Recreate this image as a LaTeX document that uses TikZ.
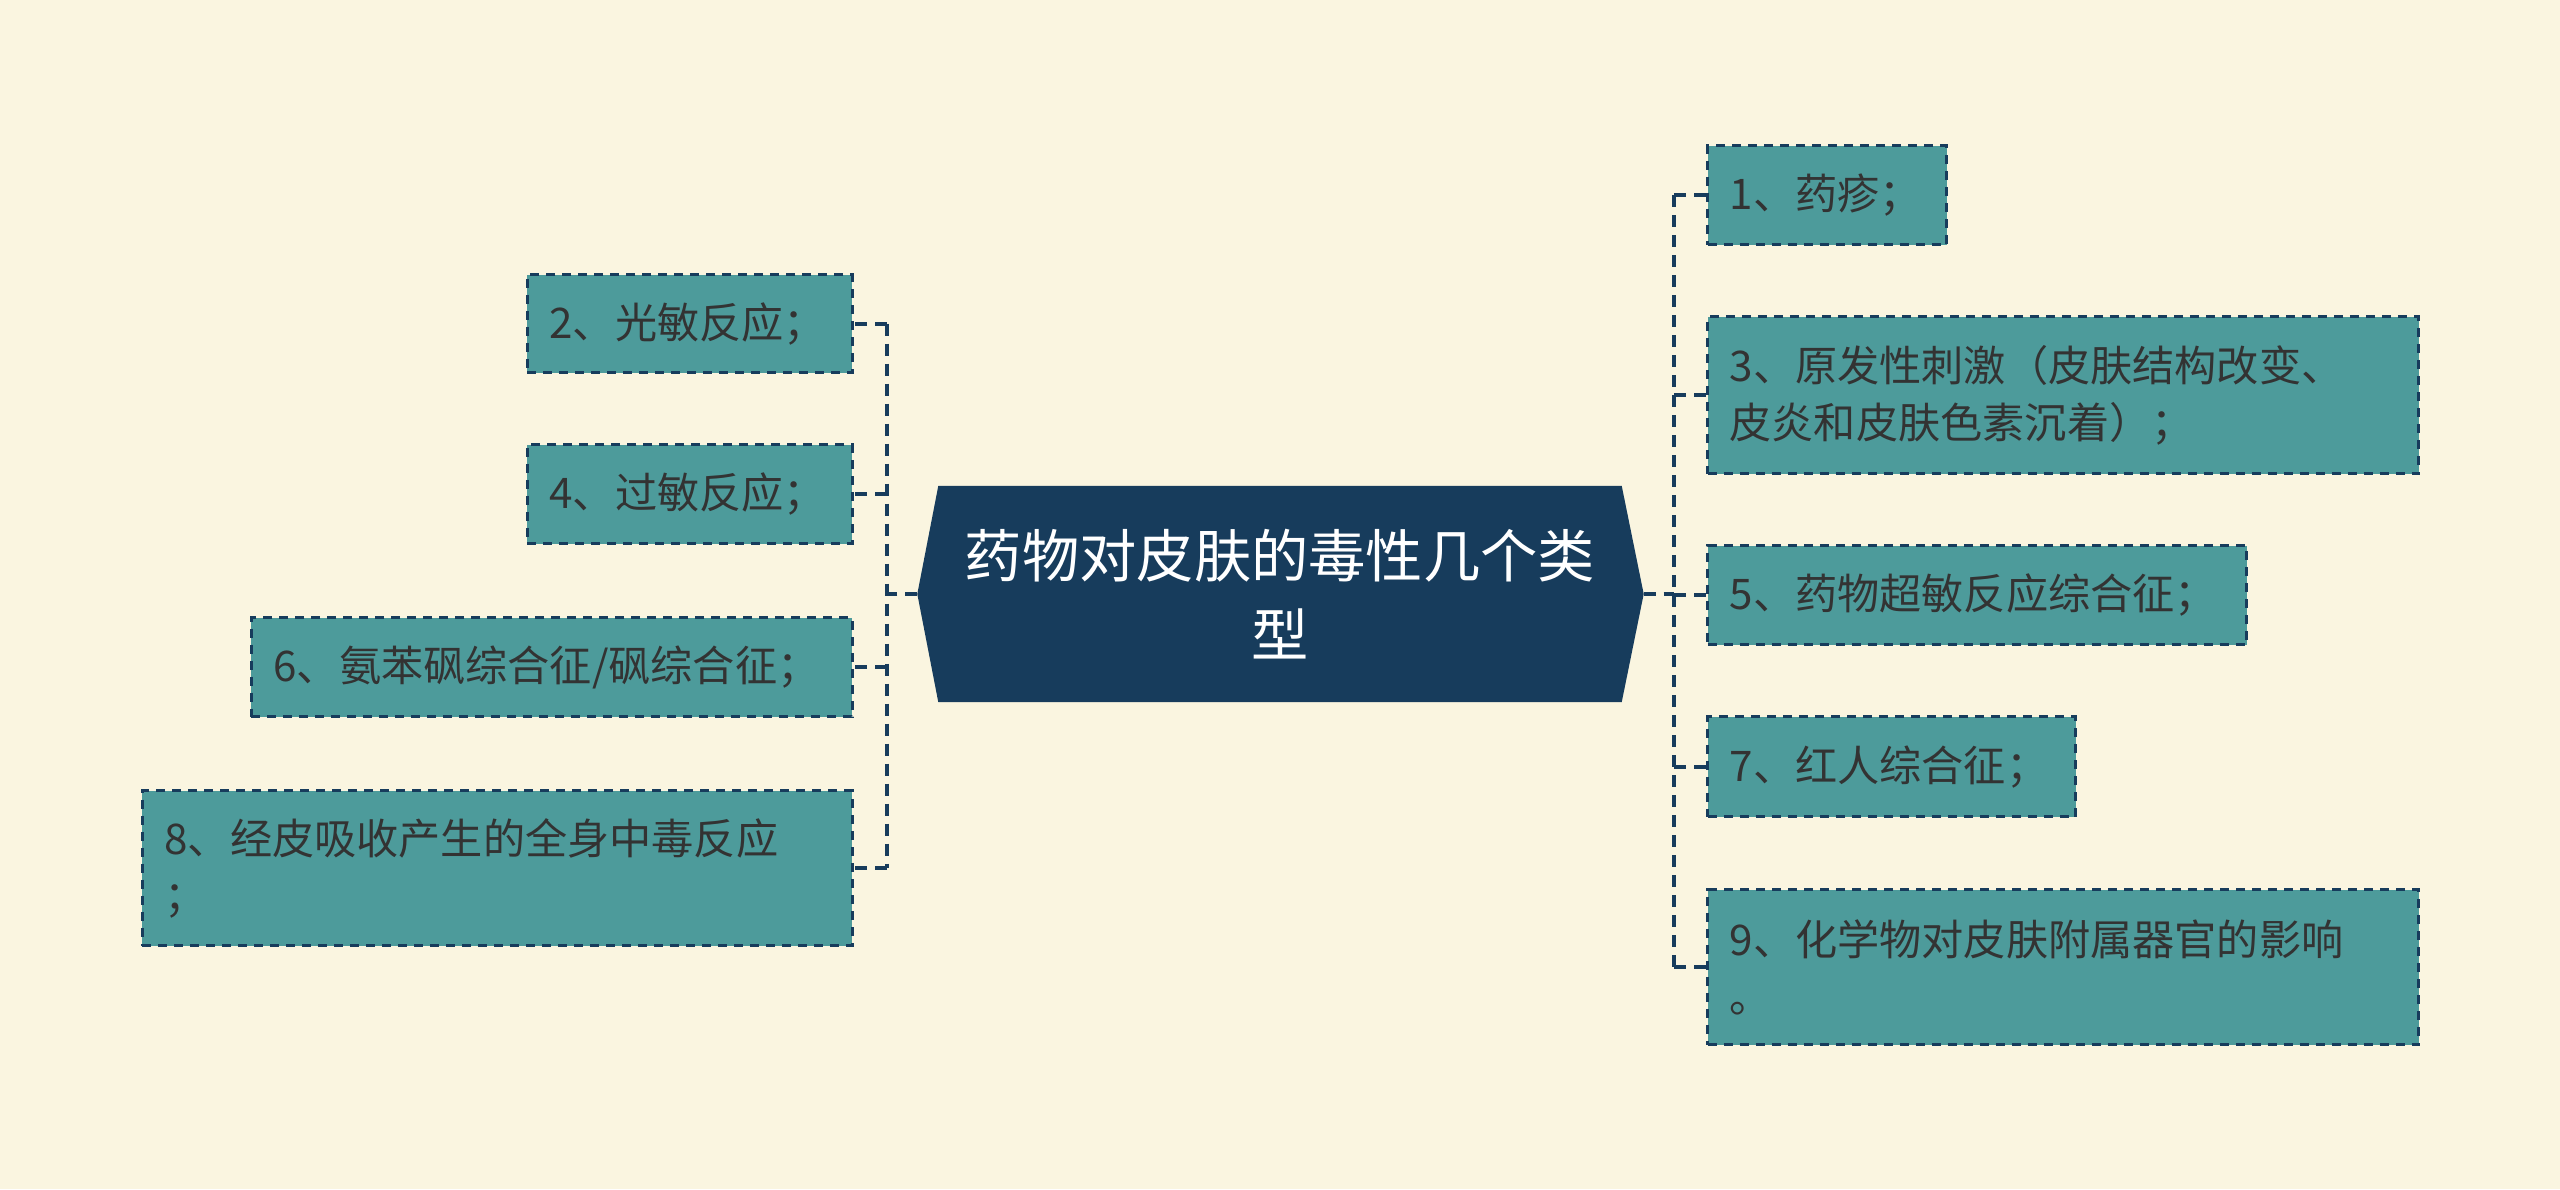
\documentclass[tikz,border=0pt]{standalone}
\usepackage{fontspec}
\newfontfamily\cjk{Noto Sans CJK SC}
\usepackage{xcolor}
\definecolor{mmcream}{RGB}{250,245,224}
\definecolor{mmteal}{RGB}{77,155,155}
\definecolor{mmnavy}{RGB}{23,60,92}
\definecolor{mmink}{RGB}{51,51,51}
\usetikzlibrary{backgrounds}

\begin{document}
\begin{tikzpicture}[
  toxitem/.style={draw=mmnavy,fill=mmteal,dash pattern=on 0.09cm off 0.07cm,line width=0.9pt,
    font=\cjk\fontsize{12pt}{16.2pt}\selectfont,text=mmink,align=left,
    inner xsep=0.22cm,inner ysep=0pt},
  toxroot/.style={font=\cjk\fontsize{16.3pt}{22.5pt}\selectfont,text=white,align=center,
    minimum width=6.82cm,minimum height=2.15cm,inner sep=0pt},
  toxlink/.style={draw=mmnavy,line width=1.1pt,dash pattern=on 0.12cm off 0.08cm}
]
  \useasboundingbox (0,0) rectangle (25.6,-11.89);
  \begin{scope}[on background layer]
    \fill[mmcream] (0,0) rectangle (25.6,-11.89);
  \end{scope}
  % Central topic
  \node[toxroot] (tox) at (12.80,-5.94) {药物对皮肤的毒性几个类\\型};
  \coordinate (toxL) at ([xshift=-0.21cm]tox.west);
  \coordinate (toxR) at ([xshift=0.22cm]tox.east);
  \begin{scope}[on background layer]
    \fill[mmnavy] (tox.north west) -- (toxL) -- (tox.south west) -- (tox.south east)
      -- (toxR) -- (tox.north east) -- cycle;
  \end{scope}
  % Left branch
  \node[toxitem,anchor=north east,text width=2.81cm,minimum height=0.98cm] (t2) at (8.54,-2.73) {2、光敏反应；};
  \node[toxitem,anchor=north east,text width=2.81cm,minimum height=0.99cm] (t4) at (8.54,-4.43) {4、过敏反应；};
  \node[toxitem,anchor=north east,text width=5.57cm,minimum height=0.99cm] (t6) at (8.54,-6.16) {6、氨苯砜综合征/砜综合征；};
  \node[toxitem,anchor=north east,text width=6.66cm,minimum height=1.55cm] (t8) at (8.54,-7.89) {8、经皮吸收产生的全身中毒反应\\；};
  % Right branch
  \node[toxitem,anchor=north west,text width=1.95cm,minimum height=0.99cm] (t1) at (17.06,-1.44) {1、药疹；};
  \node[toxitem,anchor=north west,text width=6.67cm,minimum height=1.57cm] (t3) at (17.06,-3.15) {3、原发性刺激（皮肤结构改变、\\皮炎和皮肤色素沉着）；};
  \node[toxitem,anchor=north west,text width=4.95cm,minimum height=0.99cm] (t5) at (17.06,-5.44) {5、药物超敏反应综合征；};
  \node[toxitem,anchor=north west,text width=3.24cm,minimum height=1.00cm] (t7) at (17.06,-7.15) {7、红人综合征；};
  \node[toxitem,anchor=north west,text width=6.67cm,minimum height=1.55cm] (t9) at (17.06,-8.88) {9、化学物对皮肤附属器官的影响\\。};
  % Dashed connectors
  \coordinate (busL) at (8.87,-5.94);
  \coordinate (busR) at (16.74,-5.94);
  \draw[toxlink] (toxL) -- (busL);
  \draw[toxlink] (busL |- t2.east) -- (busL |- t8.east);
  \foreach \n in {2,4,6,8}
    \draw[toxlink] (busL |- t\n.east) -- (t\n.east);
  \draw[toxlink] (toxR) -- (busR);
  \draw[toxlink] (busR |- t1.west) -- (busR |- t9.west);
  \foreach \n in {1,3,5,7,9}
    \draw[toxlink] (busR |- t\n.west) -- (t\n.west);
\end{tikzpicture}
\end{document}
